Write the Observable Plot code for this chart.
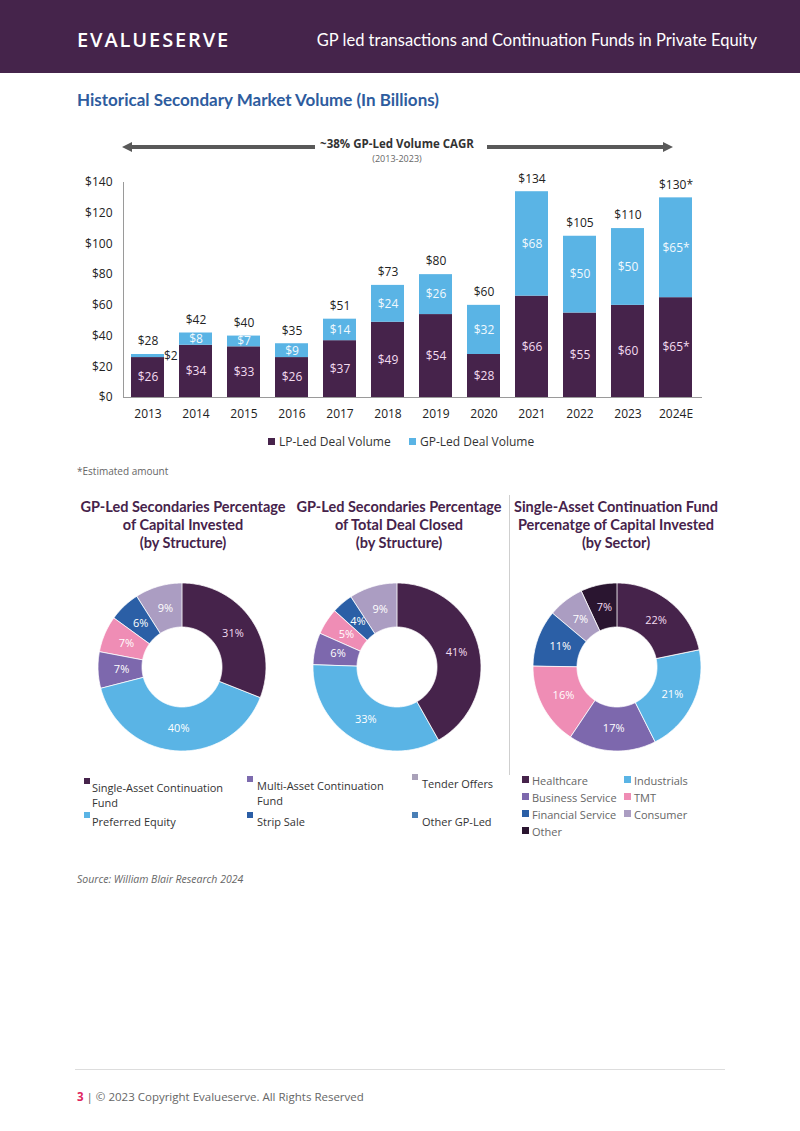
<!DOCTYPE html>
<html><head><meta charset="utf-8">
<script src="https://cdn.jsdelivr.net/npm/d3@7"></script>
<script src="https://cdn.jsdelivr.net/npm/@observablehq/plot@0.6"></script>
<style>
body{margin:0;background:#fff;}
#page{position:relative;width:800px;height:1131px;overflow:hidden;font-family:"Open Sans",sans-serif;color:#222;}
.abs{position:absolute;white-space:nowrap;}
.sq{position:absolute;display:block;}
</style></head><body><div id="page"></div>
<script>
// ---------- DATA ----------
const years = ["2013","2014","2015","2016","2017","2018","2019","2020","2021","2022","2023","2024E"];
const lpVolume = [26,34,33,26,37,49,54,28,66,55,60,65];
const gpVolume = [2,8,7,9,14,24,26,32,68,50,50,65];
const totalVolume = [28,42,40,35,51,73,80,60,134,105,110,130];
const estimated = [false,false,false,false,false,false,false,false,false,false,false,true];
const yTicks = [0,20,40,60,80,100,120,140];
const seriesNames = ["LP-Led Deal Volume","GP-Led Deal Volume"];
const seriesColors = ["#46234b","#5ab4e5"];

const structureCategories = ["Single-Asset  Continuation Fund","Multi-Asset  Continuation Fund","Tender Offers","Preferred Equity","Strip Sale","Other GP-Led"];
const structureLegendColors = ["#46234b","#7d6bae","#a9a1b9","#5ab4e5","#2b5ea6","#4a7fb6"];
// slices clockwise from 12 o'clock
const capitalSliceValues = [31,40,7,7,6,9];
const dealsSliceValues = [41,33,6,5,4,9];
const structureSliceColors = ["#46234b","#5ab4e5","#7d68ad","#ef8db5","#2b5fa6","#ab9dc2"];
const structureLabelColors = ["#f3dcf0","#ffffff","#ffffff","#ffffff","#ffffff","#ffffff"];

const sectorCategories = ["Healthcare","Industrials","Business Service","TMT","Financial Service","Consumer","Other"];
const sectorValues = [22,21,17,16,11,7,7];
const sectorColors = ["#46234b","#5ab4e5","#7d68ad","#ef8db5","#2b5fa6","#ab9dc2","#2a1530"];
const sectorLabelColors = ["#f3dcf0","#ffffff","#ffffff","#ffffff","#ffffff","#ffffff","#f3dcf0"];

const page = document.getElementById("page");
function txt(s, x, y, css = {}, anchor = "start") {
  const d = document.createElement("div");
  d.className = "abs";
  d.textContent = s;
  Object.assign(d.style, {left: x + "px", top: y + "px", lineHeight: "1", transform: `translate(${anchor === "middle" ? "-50%" : anchor === "end" ? "-100%" : "0"}, -50%)`}, css);
  page.appendChild(d);
  return d;
}
function box(x, y, w, h, color) {
  const d = document.createElement("div");
  d.className = "sq";
  Object.assign(d.style, {left: x + "px", top: y + "px", width: w + "px", height: h + "px", background: color});
  page.appendChild(d);
  return d;
}
function place(node, x, y) {
  node.style.position = "absolute"; node.style.left = x + "px"; node.style.top = y + "px";
  page.appendChild(node);
}

// ---------- HEADER ----------
box(0, 0, 800, 73, "#45244b");
txt("EVALUESERVE", 77, 40, {color: "#fff", fontSize: "20px", letterSpacing: "1.9px", fontFamily: "'Open Sans'", fontWeight: "600"});
txt("GP led transactions and Continuation Funds in Private Equity", 757, 40, {color: "#fff", fontSize: "16.5px", fontFamily: "Lato"}, "end");
txt("Historical Secondary Market Volume (In Billions)", 77, 99, {color: "#2e5c9e", fontSize: "17px", fontWeight: "bold", fontFamily: "Lato"});

// ---------- CAGR ARROWS ----------
box(131, 145, 184, 4, "#595959");
const lh = document.createElement("div");
Object.assign(lh.style, {position: "absolute", left: "122px", top: "142px", width: 0, height: 0, borderTop: "5px solid transparent", borderBottom: "5px solid transparent", borderRight: "10px solid #595959"});
page.appendChild(lh);
box(487, 145, 176, 4, "#595959");
const rh = document.createElement("div");
Object.assign(rh.style, {position: "absolute", left: "663px", top: "142px", width: 0, height: 0, borderTop: "5px solid transparent", borderBottom: "5px solid transparent", borderLeft: "10px solid #595959"});
page.appendChild(rh);
txt("~38% GP-Led Volume CAGR", 397, 144, {fontSize: "11.5px", fontWeight: "bold", color: "#333"}, "middle");
txt("(2013-2023)", 397, 158, {fontSize: "9px", color: "#666"}, "middle");

// ---------- BAR CHART ----------
const rows = [];
years.forEach((y, i) => {
  const star = estimated[i] ? "*" : "";
  rows.push({year: y, series: seriesNames[0], y1: 0, y2: lpVolume[i], value: lpVolume[i], label: "$" + lpVolume[i] + star});
  rows.push({year: y, series: seriesNames[1], y1: lpVolume[i], y2: lpVolume[i] + gpVolume[i], value: gpVolume[i], label: "$" + gpVolume[i] + star});
});
const totals = years.map((y, i) => ({year: y, total: totalVolume[i], label: "$" + totalVolume[i] + (estimated[i] ? "*" : "")}));
const mid = d => (d.y1 + d.y2) / 2;

const bar = Plot.plot({
  width: 800, height: 300,
  marginLeft: 123, marginRight: 99, marginTop: 52, marginBottom: 33,
  style: {fontFamily: "'Open Sans'", fontSize: "12px", color: "#222", background: "transparent"},
  x: {domain: years, paddingInner: 0.31, paddingOuter: 0.155, label: null},
  y: {domain: [0, 140], label: null},
  color: {domain: seriesNames, range: seriesColors},
  marks: [
    Plot.barY(rows, {x: "year", y1: "y1", y2: "y2", fill: "series"}),
    Plot.frame({anchor: "left", stroke: "#9a9a9a"}),
    Plot.frame({anchor: "bottom", stroke: "#9a9a9a"}),
    Plot.axisY({ticks: yTicks, tickFormat: d => "$" + d, tickSize: 0, tickPadding: 11, fontSize: 12, label: null}),
    Plot.axisX({tickSize: 0, tickPadding: 12, fontSize: 12, label: null}),
    Plot.text(rows.filter(d => d.series === seriesNames[0]), {x: "year", y: mid, text: "label", fill: "#f3dcf0", fontSize: 12}),
    Plot.text(rows.filter(d => d.series === seriesNames[1] && d.value >= 5), {x: "year", y: mid, text: "label", fill: "#f2f9fd", fontSize: 12}),
    Plot.text(rows.filter(d => d.series === seriesNames[1] && d.value < 5), {x: "year", y: mid, text: "label", dx: 16, textAnchor: "start", fill: "#222", fontSize: 12}),
    Plot.text(totals, {x: "year", y: "total", text: "label", dy: -13, fill: "#222", fontSize: 12})
  ]
});
place(bar, 0, 130);

// bar legend
[[268, 279], [409, 420]].forEach(([sx, tx], i) => {
  box(sx, 438, 7, 7, seriesColors[i]);
  txt(seriesNames[i], tx, 442, {fontSize: "12px", color: "#333"});
});
txt("*Estimated amount", 77, 471, {fontSize: "10px", color: "#666"});

// ---------- DONUTS ----------
const R = 84, r = 40, LR = 61;
function donut(values, colors, labelColors) {
  const total = d3.sum(values);
  let a = 0;
  const pts = [], labels = [];
  values.forEach((v, i) => {
    const a0 = a, a1 = a + v / total * 2 * Math.PI; a = a1;
    const n = Math.max(2, Math.ceil((a1 - a0) / 0.015));
    for (let k = 0; k <= n; k++) {
      const t = a0 + (a1 - a0) * k / n;
      pts.push({i, x1: R * Math.sin(t), y1: R * Math.cos(t), x2: r * Math.sin(t), y2: r * Math.cos(t)});
    }
    const m = (a0 + a1) / 2;
    labels.push({i, x: LR * Math.sin(m), y: LR * Math.cos(m), text: v + "%"});
  });
  return Plot.plot({
    width: 172, height: 172, margin: 0,
    style: {fontFamily: "'Open Sans'", background: "transparent"},
    x: {domain: [-86, 86], axis: null}, y: {domain: [-86, 86], axis: null},
    color: {type: "identity"},
    marks: [
      Plot.area(pts, {x1: "x1", y1: "y1", x2: "x2", y2: "y2", z: "i", fill: d => colors[d.i], stroke: "#fff", strokeWidth: 0.8}),
      Plot.text(labels, {x: "x", y: "y", text: "text", fill: d => labelColors[d.i], fontSize: 11})
    ]
  });
}
place(donut(capitalSliceValues, structureSliceColors, structureLabelColors), 182 - 86, 667 - 86);
place(donut(dealsSliceValues, structureSliceColors, structureLabelColors), 397 - 86, 667 - 86);
place(donut(sectorValues, sectorColors, sectorLabelColors), 617 - 86, 667 - 86);

// donut titles
const titleCss = {fontSize: "14.5px", fontWeight: "bold", color: "#46234b", fontFamily: "Lato", textAlign: "center", lineHeight: "18px"};
[["GP-Led Secondaries Percentage", "of Capital Invested", "(by Structure)", 183],
 ["GP-Led Secondaries Percentage", "of Total Deal Closed", "(by Structure)", 399],
 ["Single-Asset Continuation Fund", "Percenatge of Capital Invested", "(by Sector)", 616]].forEach(t => {
  t.slice(0, 3).forEach((s, k) => txt(s, t[3], 507 + 18 * k, titleCss, "middle"));
});
// divider
box(509, 495, 1, 280, "#cfcfcf");

// structure legend
const legCss = {fontSize: "11px", color: "#333", lineHeight: "15px", whiteSpace: "normal"};
const colX = [84, 247, 412], rowY = [[787, 785, 783], [821, 821, 821]];
structureCategories.forEach((c, i) => {
  const col = i % 3, row = Math.floor(i / 3);
  const y = rowY[row][col];
  box(colX[col], y - 9, 6, 6, structureLegendColors[i]);
  const d = txt(c, colX[col] + (col === 0 ? 8 : 10), y, Object.assign({}, legCss, {width: "140px"}));
  d.style.transform = "translate(0,-7.5px)";
});
// sector legend
const sColX = [522, 624], sRowY = [780, 797, 814, 831];
sectorCategories.forEach((c, i) => {
  const col = i % 2, row = Math.floor(i / 2);
  const y = sRowY[row];
  box(sColX[col], y - 4, 7, 7, sectorColors[i]);
  txt(c, sColX[col] + 10, y, {fontSize: "11px", color: "#666"});
});

txt("Source: William Blair Research 2024", 77, 879, {fontSize: "10.5px", color: "#666", fontStyle: "italic"});

// footer
box(75, 1069, 650, 1, "#dddddd");
const f = txt("", 77, 1097, {fontSize: "11.5px", color: "#666"});
f.innerHTML = '<b style="color:#e0245e">3</b> | © 2023 Copyright Evalueserve. All Rights Reserved';
</script></body></html>
